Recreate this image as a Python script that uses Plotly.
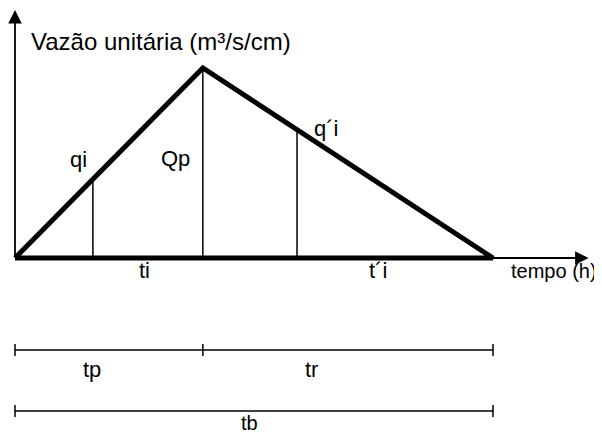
import plotly.graph_objects as go

# hidrograma unitário triangular (unidades arbitrárias)
tempo = [0.0, 3.93, 10.0]        # início, tp, tb
vazao = [0.0, 1.0, 0.0]          # 0, Qp, 0
t_qi = 1.63
t_qi2 = 5.9
y_tp_tr = -0.484
y_tb = -0.805

tp, tb = tempo[1], tempo[2]
qp = vazao[1]


def on_triangle(t):
    if t <= tp:
        return qp * t / tp
    return qp * (tb - t) / (tb - tp)


fig = go.Figure()

# triângulo
fig.add_trace(go.Scatter(x=tempo + [tempo[0]], y=vazao + [vazao[0]], mode="lines",
                         line=dict(color="black", width=5), hoverinfo="skip"))

# linhas verticais qi, Qp, q'i
for t in [t_qi, tp, t_qi2]:
    fig.add_trace(go.Scatter(x=[t, t], y=[0, on_triangle(t)], mode="lines",
                             line=dict(color="black", width=1.5), hoverinfo="skip"))

# cotas tp / tr / tb
tick = 0.032
for y0, xs in [(y_tp_tr, [0, tp, tb]), (y_tb, [0, tb])]:
    fig.add_trace(go.Scatter(x=[xs[0], xs[-1]], y=[y0, y0], mode="lines",
                             line=dict(color="black", width=1.5), hoverinfo="skip"))
    for xv in xs:
        fig.add_trace(go.Scatter(x=[xv, xv], y=[y0 - tick, y0 + tick], mode="lines",
                                 line=dict(color="black", width=1.5), hoverinfo="skip"))

# eixos com setas
fig.add_annotation(x=12.0, y=0, ax=0, ay=0, xref="x", yref="y", axref="x", ayref="y",
                   text="", showarrow=True, arrowhead=2, arrowsize=1.5, arrowwidth=1.8,
                   arrowcolor="black", standoff=0)
fig.add_annotation(x=0, y=1.305, ax=0, ay=0, xref="x", yref="y", axref="x", ayref="y",
                   text="", showarrow=True, arrowhead=2, arrowsize=1.5, arrowwidth=1.8,
                   arrowcolor="black", standoff=0)

labels = [
    (0.293, 1.142, "Vazão unitária (m³/s/cm)", "left", 24),
    (1.318, 0.516, "qi", "center", 22),
    (3.368, 0.526, "Qp", "center", 22),
    (6.506, 0.684, "q´i", "center", 22),
    (2.699, -0.068, "ti", "center", 22),
    (7.594, -0.068, "t´i", "center", 22),
    (12.22, -0.068, "tempo (h)", "right", 20),
    (1.611, -0.589, "tp", "center", 22),
    (6.213, -0.589, "tr", "center", 22),
    (4.916, -0.868, "tb", "center", 20),
]
for x, y, txt, anchor, size in labels:
    fig.add_annotation(x=x, y=y, text=txt, showarrow=False, xanchor=anchor,
                       font=dict(family="Liberation Sans, Arial", color="black", size=size))

fig.update_layout(
    width=594, height=428, margin=dict(l=0, r=0, t=0, b=0),
    paper_bgcolor="white", plot_bgcolor="white", showlegend=False,
    xaxis=dict(range=[-0.1464, 12.2803], visible=False),
    yaxis=dict(range=[-0.9368, 1.3158], visible=False),
)

fig.write_html("out.html")
